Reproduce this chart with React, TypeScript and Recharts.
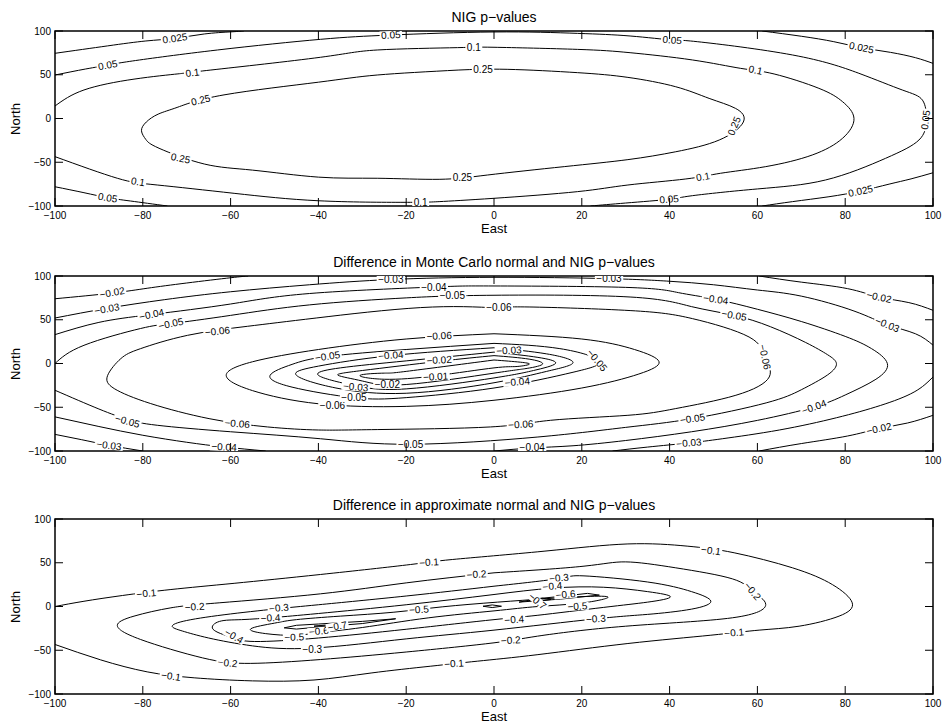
import React from "react";
import { ComposedChart, Line, Scatter, XAxis, YAxis, ReferenceArea } from "recharts";

type Pair = number[];
type Lab = [string, number, number, number];

// ---- axis ticks ----
const xTicks = [-100, -80, -60, -40, -20, 0, 20, 40, 60, 80, 100];
const yTicks = [-100, -50, 0, 50, 100];

// ---- panel 1: NIG p-values ----
const nig025UpperLeft: Pair[] = [[-100, 74.5], [-88, 83], [-79.3, 88.6], [-72.7, 91.6], [-66, 96.6], [-60, 99], [-57, 100]];
const nig025UpperRight: Pair[] = [[61.1, 100], [70, 94], [77.4, 87.8], [83.7, 81], [90.3, 75.6], [96, 69.5], [100, 63]];
const nig025LowerRight: Pair[] = [[100, -62], [95, -69], [90, -75], [83.5, -82.9], [76.3, -89.4], [68, -95], [61.1, -100]];
const nig05Main: Pair[] = [[-100, 49.7], [-93, 56.6], [-88, 61], [-82.4, 65.7], [-63, 78.3], [-39.5, 90.5], [-23.5, 95.4], [0, 98.9], [19, 97.3], [31, 94.3], [40.6, 89.7], [46.3, 87.8], [68, 72.6], [83.1, 51.7], [93, 32.6], [97.6, 21], [98.5, -2], [96.8, -24.6], [89.2, -45.5], [75.5, -70.3], [60, -80.5], [45.2, -88.2], [39.9, -92.3], [30, -96.6], [22, -100]];
const nig05LowerLeft: Pair[] = [[-100, -78], [-93.4, -84.8], [-88, -90.5], [-82.8, -94.3], [-74.4, -100]];
const nig10: Pair[] = [[-100, 14.3], [-93.4, 32.6], [-82, 45], [-72, 51], [-64.5, 55.4], [-39.5, 70], [-26.6, 78.3], [-8.3, 81], [0, 81.4], [19, 79], [31, 75.2], [45.2, 66.9], [56.2, 57.3], [63.8, 50.9], [74, 34.5], [79.4, 19.2], [82, 0.2], [79.4, -22.6], [72.5, -41.7], [61.9, -55], [51.6, -62.6], [43.7, -69.1], [30.5, -76], [19, -83.6], [0, -91.2], [-12.5, -95], [-20.5, -95.8], [-40, -94], [-59.2, -85.5], [-76.7, -76], [-85.8, -68.3], [-100, -43.6]];
const nig25: Pair[] = [[-8, 55.4], [3, 56.2], [19, 52.4], [30.5, 47], [41.4, 36.3], [49, 23], [55, 11.6], [56.8, -4], [51.3, -24.6], [41.4, -38], [30.5, -47], [16, -55], [-1.5, -64.6], [-12.5, -69.5], [-26.6, -68.3], [-40, -67], [-55, -59], [-66, -52], [-76.3, -34], [-79.3, -24], [-80.3, -14], [-79.2, -4], [-76.5, 5], [-72, 13], [-61.5, 27], [-40, 41.5], [-26.6, 49.7], [-8, 55.4]];
const nigLabels: Lab[] = [
  ["0.025", -72.7, 91.6, -8], ["0.05", -88, 61, -10], ["0.1", -68.7, 52.4, -7], ["0.25", -66.8, 21, -13],
  ["0.05", -23.5, 95.4, -3], ["0.1", -4.6, 81.2, 0], ["0.25", -2.5, 55.6, 0],
  ["0.05", 40.6, 89.7, 5], ["0.1", 59.6, 55.4, 12], ["0.025", 83.7, 81, 12], ["0.25", 54.7, -8.6, -68], ["0.05", 98.3, -1.7, -82],
  ["0.1", 47.6, -66.5, -10], ["0.025", 83.5, -82.9, -12], ["0.05", 39.9, -92.3, -5],
  ["0.25", -7.2, -67.6, 0], ["0.1", -16.7, -95.8, 0],
  ["0.25", -71.4, -45.5, 12], ["0.1", -81.1, -72.2, 10], ["0.05", -88, -90.5, 10],
];

// ---- panel 2: Monte Carlo normal minus NIG ----
const mc02UpperLeft: Pair[] = [[-100, 74], [-87, 80.5], [-79, 86], [-70, 92], [-60, 98], [-56, 100]];
const mc02UpperRight: Pair[] = [[60.4, 100], [70, 93], [80.5, 85.6], [87.7, 76], [94.5, 69.6], [100, 60.8]];
const mc02LowerRight: Pair[] = [[100, -59.2], [94.2, -68], [87.7, -74.4], [80.5, -82.9], [70, -91.5], [60.4, -100]];
const mc03Upper: Pair[] = [[-100, 52], [-88.2, 63], [-75, 73], [-60, 82], [-42, 90], [-23.5, 96], [0, 98.5], [26, 97], [40, 94], [50, 90], [60, 84], [70, 77], [82, 60], [89.6, 44.4], [96, 34], [100, 21]];
const mc03LowerRight: Pair[] = [[100, -15.4], [95.7, -32.6], [88, -48], [78, -62], [65, -76], [52, -86], [44.4, -90.8], [35, -95.5], [27, -100]];
const mc03LowerLeft: Pair[] = [[-100, -81], [-94, -87], [-87.7, -93.5], [-80, -100]];
const mc04Main: Pair[] = [[-100, 33], [-90, 47], [-78, 56], [-60, 68], [-42, 80], [-13.7, 87.4], [0, 88.6], [30, 87], [42, 81], [50.5, 73.4], [60, 62], [70, 48], [80, 31], [86, 17], [89.6, 0], [87, -18], [80, -36], [72.9, -49.7], [60, -65], [45, -78], [30, -88], [18, -94], [8.7, -96.5], [0, -100]];
const mc04LowerLeft: Pair[] = [[-100, -61], [-90, -72], [-80, -82], [-70, -90], [-61.5, -95.4], [-52, -100]];
const mc05Outer: Pair[] = [[-100, 0], [-93.4, 20.8], [-80.5, 40], [-73.6, 45.6], [-60, 55], [-42, 67], [-20, 75], [0, 78], [31, 76], [45, 65], [54.7, 55], [63, 42], [71, 24], [76, 10], [78, 0], [76, -13], [70, -30], [62, -45], [45.2, -63], [30, -73], [10, -84], [-19, -92.3], [-39.5, -86], [-60, -78], [-76.7, -70.6], [-83.5, -64], [-90, -52], [-100, -30.6]];
const mc06Outer: Pair[] = [[1.1, 63.4], [8, 64.6], [31, 60.5], [45.2, 51.3], [58.1, 30.3], [61.7, 7.4], [62.7, -15.4], [55.1, -36.3], [41.4, -51.5], [30.5, -59.2], [12.9, -64.9], [-0.8, -72.5], [-26.6, -75.5], [-40, -76], [-51.6, -72.5], [-64.9, -63], [-78.2, -45.8], [-86.5, -28.7], [-88, -13.5], [-85, 5.6], [-80.5, 17], [-69.8, 32.2], [-56.2, 42.5], [-40.5, 52], [-16.7, 63.9], [1.1, 63.4]];
const mc06Inner: Pair[] = [[0, 34], [20, 28], [32, 16], [37.6, 2], [33, -12], [20, -28], [0, -42], [-20, -49], [-40, -46], [-55, -31], [-61, -13.5], [-55, 2], [-40, 16], [-20, 28], [0, 34]];
const mc05Inner: Pair[] = [[0, 23], [15, 17], [24, 3], [18, -10], [0, -28], [-20, -39], [-32, -39], [-46, -27], [-51, -13.5], [-46, -1], [-38, 8], [-20, 16], [0, 23]];
const mc04Inner: Pair[] = [[0, 18], [12, 11], [18, 1], [12, -9], [0, -22], [-20, -34], [-36, -28], [-45, -13.5], [-40, -3], [-23.5, 9], [0, 18]];
const mc03Inner: Pair[] = [[0, 13], [10, 7], [14, 0], [9, -8], [0, -16.5], [-20, -29], [-32, -25], [-40, -13.5], [-35, -5], [-20, 3], [0, 13]];
const mc02Inner: Pair[] = [[0, 9], [8, 5], [11, -1], [7, -6], [0, -11], [-20, -24], [-30, -20], [-35.5, -13.5], [-30, -8], [-12.5, 2.5], [0, 9]];
const mc01Inner: Pair[] = [[0, 4], [6, 1.5], [8, -1], [5, -3.5], [0, -5], [-13.3, -14], [-25, -18], [-30.5, -13.5], [-25, -11], [-20, -9], [0, 4]];
const mcLabels: Lab[] = [
  ["−0.02", -87, 81, -10], ["−0.03", -88.2, 62.5, -10], ["−0.04", -78, 56, -12], ["−0.05", -73.6, 45.5, -12], ["−0.06", -63, 36.8, -6],
  ["−0.03", -23.5, 96.5, 0], ["−0.04", -13.7, 87.4, 0], ["−0.05", -9.5, 77.5, 0], ["−0.06", 1.1, 63.6, 0],
  ["−0.03", 26.2, 96.8, 0], ["−0.04", 50.5, 73.4, 8], ["−0.05", 54.7, 55, 10], ["−0.02", 87.7, 76, 12], ["−0.03", 89.6, 44.4, 22], ["−0.06", 61.7, 7.4, 78],
  ["−0.04", 72.9, -49.7, -20], ["−0.02", 87.7, -74.4, -12], ["−0.05", 45.2, -63, -8], ["−0.03", 44.4, -90.8, -5], ["−0.06", 6.1, -69.5, -3], ["−0.05", -19, -92.3, 0], ["−0.04", 8.7, -96, 0],
  ["−0.05", -83.5, -66, 15], ["−0.06", -58.5, -68.7, 5], ["−0.03", -87.7, -93.5, 7], ["−0.04", -61.5, -95.4, 3],
  ["−0.06", -12.5, 31.5, -3], ["−0.06", -36.8, -47.5, 0], ["−0.05", -37.9, 8.2, -8], ["−0.05", -31.9, -39.4, 0], ["−0.05", 23.5, 3.7, 50],
  ["−0.04", -23.5, 9.4, -5], ["−0.04", 5.3, -21, -5], ["−0.03", 3.4, 15, -3], ["−0.03", -31.5, -26.8, 5],
  ["−0.02", -12.5, 4, -3], ["−0.02", -24.3, -24, 0], ["−0.01", -13.3, -15, -3],
];

// ---- panel 3: approximate normal minus NIG ----
const ap1: Pair[] = [[-100, 0], [-93.4, 6], [-84.6, 12.6], [-73.6, 19.4], [-59.2, 26.5], [-39.5, 36.6], [-19, 48], [-9.5, 53.7], [11.4, 63.2], [30.5, 71.5], [44, 69], [54.7, 61.4], [68, 44.2], [77.1, 25], [81.6, 4.2], [78.6, -11], [69.5, -22.5], [60.4, -27], [49.4, -32.8], [30.5, -42.3], [10, -55], [-3.8, -62.5], [-14.4, -68.2], [-28, -76], [-41, -84], [-55, -85], [-68.3, -81.5], [-79, -74.7], [-89.6, -61], [-100, -43.4]];
const ap2: Pair[] = [[0, 38.5], [20.5, 46.1], [30, 51], [41.4, 44.2], [54.3, 31.6], [58.9, 17.5], [61.9, 2.3], [54.3, -12.9], [30, -22.5], [9.9, -33.9], [0, -41.5], [-20, -52], [-39.5, -60.6], [-55.4, -65], [-66.4, -58.7], [-80.5, -37.7], [-85.8, -21.7], [-82, -11], [-73.6, -1.5], [-62.6, 4.2], [-39.5, 14.5], [-20, 27], [0, 38.5]];
const ap3: Pair[] = [[0, 23.2], [14.8, 32], [20.5, 35], [35, 28], [45, 17], [49.4, 6.1], [45, -3], [35, -9], [23.2, -14.1], [0, -27], [-20, -37], [-41.2, -47.5], [-55, -45], [-65, -36], [-71, -28], [-73.3, -22.5], [-70, -16], [-60, -8.5], [-48.8, -2.3], [-40, 2], [-20, 12], [0, 23.2]];
const ap4: Pair[] = [[0, 13.7], [13.3, 21], [25, 22], [35, 17], [40.2, 11], [35, 5], [25, -1], [10, -10], [0, -15], [-20, -26], [-40, -36], [-54.5, -40], [-60, -35], [-64, -26], [-62.5, -17], [-57.5, -15], [-50, -12.5], [-40, -8], [-20, 2], [0, 13.7]];
const ap5: Pair[] = [[0.8, 5], [12, 9], [21, 11.5], [26, 10.5], [20, 4], [10, 0], [0, -5], [-15, -13], [-30, -24], [-40, -30], [-45.5, -33], [-52, -31], [-55.4, -25.5], [-50, -19], [-45, -15], [-35, -11], [-22.8, -6.5], [-11.8, -0.4], [0.8, 5]];
const ap6Left: Pair[] = [[-47.8, -24.4], [-45, -21.5], [-40, -20], [-30, -17], [-22.4, -14], [-30, -19.5], [-40, -23.5], [-45, -25.8], [-47.8, -24.4]];
const ap7Left: Pair[] = [[-41, -22.5], [-38, -21], [-33.8, -19.4], [-37, -22], [-41, -22.5]];
const ap6Right: Pair[] = [[5.7, 5], [10, 9], [16, 12], [21.3, 15], [24, 13], [15.2, 8.5], [5.7, 5]];
const ap7Right: Pair[] = [[8, 7], [11, 9.5], [13, 8], [10, 6], [8, 7]];
const apDiamond: Pair[] = [[-2.5, 0.3], [-0.4, 1.8], [1.7, 0.3], [-0.4, -1.2], [-2.5, 0.3]];
const apLabels: Lab[] = [
  ["−0.1", -79.2, 14.9, -6], ["−0.1", -14.8, 50.6, -4], ["−0.1", 49.4, 64, 8], ["−0.1", 54.7, -30, -5], ["−0.1", -9.1, -65.1, -4], ["−0.1", -73.6, -79.6, 8],
  ["−0.2", -68.2, -0.4, -4], ["−0.2", -4, 36.8, -4], ["−0.2", 58.9, 17.5, 50], ["−0.2", 3.8, -38.5, -4], ["−0.2", -60.7, -64.4, 6],
  ["−0.3", -49, -1.5, -5], ["−0.3", 14.8, 32.8, -5], ["−0.3", 23.2, -14.1, -4], ["−0.3", -41.4, -49.5, 0],
  ["−0.4", -50.9, -13, -3], ["−0.4", 13.3, 23.2, -5], ["−0.4", -59.2, -33.9, 30], ["−0.4", 4.6, -14.9, -4],
  ["−0.5", -45.5, -35, -2], ["−0.5", -17.1, -3.4, -3], ["−0.5", 19, 0.3, -3],
  ["−0.6", -39.9, -28.2, -5], ["−0.6", 16.3, 13.7, -5], ["−0.7", -35.7, -22.5, -10], ["−0.7", 9.9, 6.1, 40],
];

// ---- layout ----
const W = 945;
const H = 235;
const PT = 30;
const PB = 205;
const PL = 55;
const PR = 933;
const TL = 8;
const FONT = "'Liberation Sans', Arial, Helvetica, sans-serif";

const toPts = (a: Pair[]) => a.map(([x, y]) => ({ x, y }));
const fmt = (v: number) => (v < 0 ? "\u2212" + Math.abs(v) : String(v));

const charW: Record<string, number> = { ".": 2.78, "\u2212": 5.84 };
const textW = (s: string) => s.split("").reduce((w, c) => w + (charW[c] ?? 5.56), 0);

function XTick({ x, payload }: any) {
  return (
    <g>
      <line x1={x} x2={x} y1={PB} y2={PB - TL} stroke="#000" />
      <line x1={x} x2={x} y1={PT} y2={PT + TL} stroke="#000" />
      <text x={x} y={PB + 9.5} dy="0.35em" textAnchor="middle" fontSize={10} fill="#000" fontFamily={FONT}>
        {fmt(payload.value)}
      </text>
    </g>
  );
}

function YTick({ y, payload }: any) {
  return (
    <g>
      <line x1={PL} x2={PL + TL} y1={y} y2={y} stroke="#000" />
      <line x1={PR} x2={PR - TL} y1={y} y2={y} stroke="#000" />
      <text x={PL - 4} y={y} dy="0.35em" textAnchor="end" fontSize={10} fill="#000" fontFamily={FONT}>
        {fmt(payload.value)}
      </text>
    </g>
  );
}

function ContourLabel(props: any) {
  const { cx, cy, payload } = props;
  const w = textW(payload.t) + 3;
  return (
    <g transform={`translate(${cx},${cy}) rotate(${payload.a})`}>
      <rect x={-w / 2} y={-4} width={w} height={8} fill="#fff" />
      <text textAnchor="middle" dy="0.35em" fontSize={10} fill="#000" fontFamily={FONT}>
        {payload.t}
      </text>
    </g>
  );
}

type Contour = { pts: Pair[]; curve: "natural" | "linear" };

function Panel({ top, title, contours, labels }: { top: number; title: string; contours: Contour[]; labels: Lab[] }) {
  const labelData = labels.map(([t, x, y, a]) => ({ t, x, y, a }));
  const midY = top + (PT + PB) / 2;
  return (
    <>
      <div
        style={{
          position: "absolute", left: 0, width: PL + PR, top: top + PT - 21, height: 14,
          textAlign: "center", fontSize: 14, lineHeight: "14px", fontFamily: FONT, color: "#000",
        }}
      >
        {title}
      </div>
      <div
        style={{
          position: "absolute", left: 0, width: PL + PR, top: top + PB + 16, height: 14,
          textAlign: "center", fontSize: 13, lineHeight: "14px", fontFamily: FONT, color: "#000",
        }}
      >
        East
      </div>
      <div
        style={{
          position: "absolute", left: 16 - 30, width: 60, top: midY - 7, height: 14,
          textAlign: "center", fontSize: 13, lineHeight: "14px", fontFamily: FONT, color: "#000",
          transform: "rotate(-90deg)",
        }}
      >
        North
      </div>
      <div style={{ position: "absolute", left: 0, top }}>
        <ComposedChart width={W} height={H} margin={{ top: PT, right: W - PR, bottom: 0, left: 0 }}>
          <XAxis
            type="number" dataKey="x" domain={[-100, 100]} ticks={xTicks} interval={0}
            allowDataOverflow axisLine={false} tickLine={false} tick={XTick} height={H - PB}
          />
          <YAxis
            type="number" dataKey="y" domain={[-100, 100]} ticks={yTicks} interval={0}
            allowDataOverflow axisLine={false} tickLine={false} tick={YTick} width={PL}
          />
          {contours.map((c, i) => (
            <Line
              key={i} data={toPts(c.pts)} dataKey="y" type={c.curve} dot={false} activeDot={false}
              stroke="#000" strokeWidth={1} isAnimationActive={false} legendType="none"
            />
          ))}
          <Scatter data={labelData} shape={ContourLabel} isAnimationActive={false} />
          <ReferenceArea x1={-100} x2={100} y1={-100} y2={100} fill="none" stroke="#000" strokeWidth={1.5} />
        </ComposedChart>
      </div>
    </>
  );
}

const nat = (pts: Pair[]): Contour => ({ pts, curve: "natural" });
const lin = (pts: Pair[]): Contour => ({ pts, curve: "linear" });

export default function App() {
  return (
    <div style={{ position: "absolute", left: 0, top: 0, width: 945, height: 727, background: "#fff", overflow: "hidden" }}>
      <Panel
        top={1}
        title="NIG p−values"
        contours={[nig025UpperLeft, nig025UpperRight, nig025LowerRight, nig05Main, nig05LowerLeft, nig10, nig25].map(nat)}
        labels={nigLabels}
      />
      <Panel
        top={246}
        title="Difference in Monte Carlo normal and NIG p−values"
        contours={[
          mc02UpperLeft, mc02UpperRight, mc02LowerRight, mc03Upper, mc03LowerRight, mc03LowerLeft,
          mc04Main, mc04LowerLeft, mc05Outer, mc06Outer, mc06Inner, mc05Inner, mc04Inner, mc03Inner, mc02Inner, mc01Inner,
        ].map(nat)}
        labels={mcLabels}
      />
      <Panel
        top={489}
        title="Difference in approximate normal and NIG p−values"
        contours={[
          ...[ap1, ap2, ap3, ap4, ap5].map(nat),
          ...[ap6Left, ap7Left, ap6Right, ap7Right, apDiamond].map(lin),
        ]}
        labels={apLabels}
      />
    </div>
  );
}
